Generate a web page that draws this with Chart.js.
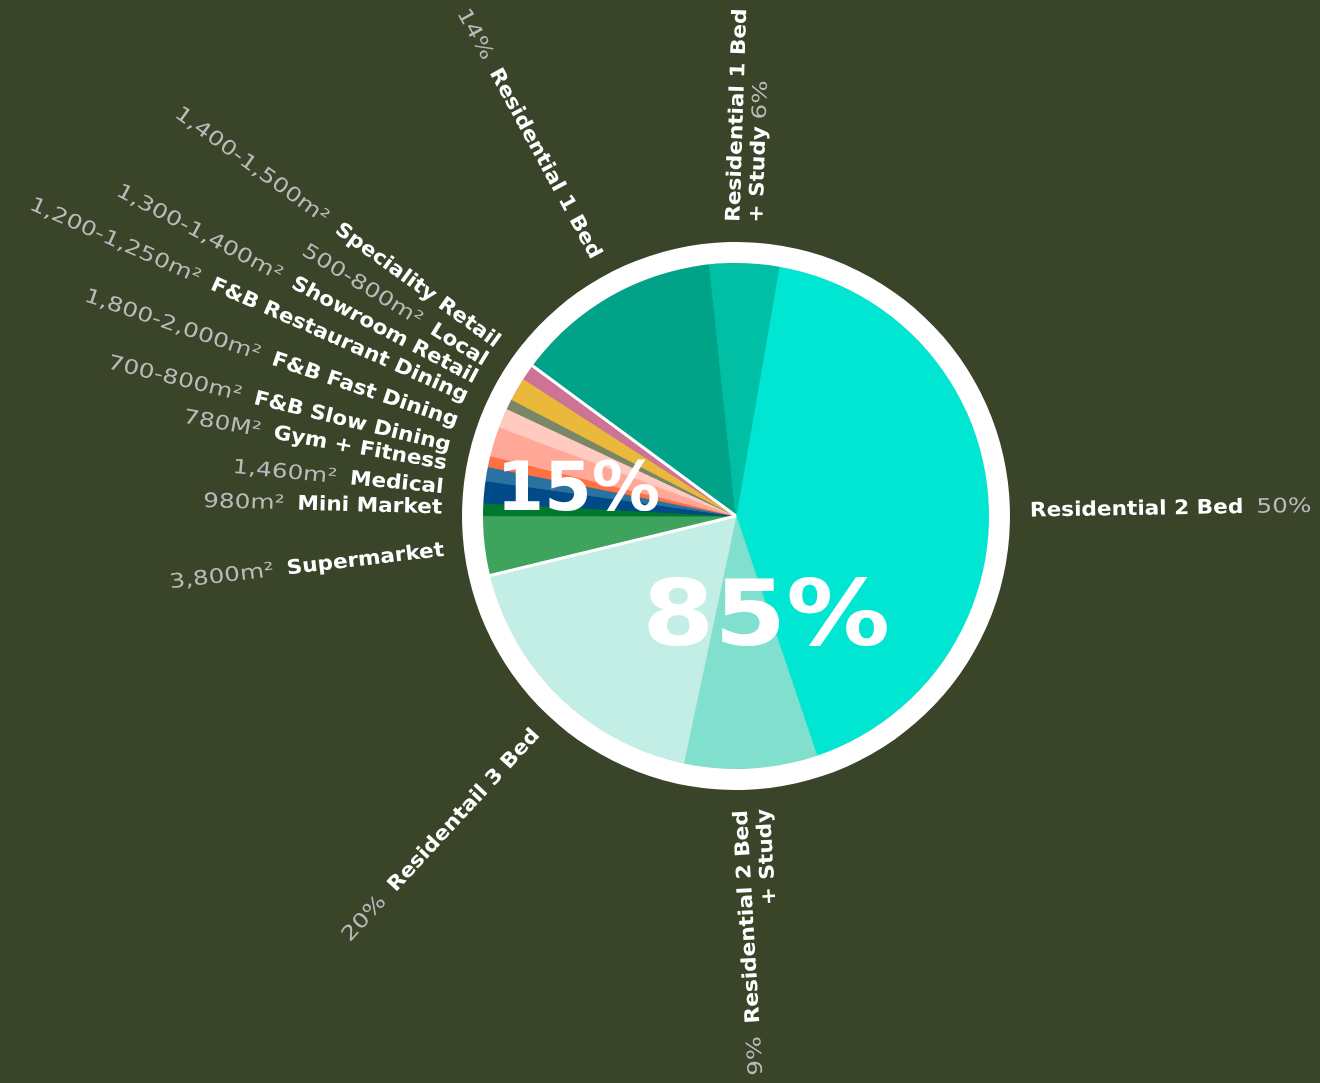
<!DOCTYPE html>
<html>
<head>
<meta charset="utf-8">
<script src="https://cdn.jsdelivr.net/npm/chart.js@4.4.1/dist/chart.umd.min.js"></script>
<style>
  html, body { margin: 0; padding: 0; background: #394429; }
  #wrap { position: relative; width: 1320px; height: 1083px; }
</style>
</head>
<body>
<div id="wrap"><canvas id="mixChart"></canvas></div>
<script>
// --- DATA (clockwise, starting just right of 12 o'clock) ---
const categories = [
    'Residential 2 Bed', 'Residential 2 Bed\n+ Study', 'Residentail 3 Bed',
    'Supermarket', 'Mini Market', 'Medical', 'Gym + Fitness',
    'F&B Slow Dining', 'F&B Fast Dining', 'F&B Restaurant Dining',
    'Showroom Retail', 'Local', 'Speciality Retail',
    'Residential 1 Bed', 'Residential 1 Bed\n+ Study'
];
const shares = [42.1, 8.5, 17.9, 3.8, 0.8, 1.4, 0.9, 0.7, 1.9, 1.25, 0.65, 1.5, 1.0, 13.2, 4.4];
const valueLabels = [
    '50%', '9%', '20%',
    '3,800m²', '980m²', '1,460m²', '780M²',
    '700-800m²', '1,800-2,000m²', '1,200-1,250m²',
    '1,300-1,400m²', '500-800m²', '1,400-1,500m²',
    '14%', '6%'
];
const groups = ['res', 'res', 'res', 'com', 'com', 'com', 'com', 'com', 'com', 'com', 'com', 'com', 'com', 'res', 'res'];
const groupNames = ['res', 'com'];
const groupTotals = ['85%', '15%'];

// --- STYLE / LAYOUT ---
const sliceColors = [
    '#00E6D2', '#80DFCD', '#C3EEE5',
    '#3DA35D', '#00782E', '#004B87', '#2A72A0',
    '#FF7043', '#FFA897', '#FFCAC0',
    '#7A8767', '#EAB93B', '#CD7396',
    '#00A288', '#00BFA5'
];
const labelNudgeDeg = [3.5, 0, -1.5, 0, 0, 0, 0.5, 1.2, 1.5, 1, 1.5, 1.5, 1.2, 1.3, 0];
const totalPos = { res: [0.119, 0.51, 90, 1.15], com: [-0.623, -0.024, 67, 1.02] };
const NAME_FONT = 'bold 20px "DejaVu Sans"';
const VALUE_FONT = '20px "DejaVu Sans"';
const NAME_SX = 1.08, VALUE_SX = 1.24, PART_GAP = 13, LINE_H = 23, LABEL_GAP = 20;
const WHITE = '#ffffff', GREY = '#bababa';

function stretchText(ctx, str, x, y, sx) {
    ctx.save();
    ctx.translate(x, y);
    ctx.scale(sx, 1);
    ctx.fillText(str, 0, 0);
    ctx.restore();
}

const radialLabels = {
    id: 'radialLabels',
    afterDatasetsDraw(chart) {
        const ctx = chart.ctx;
        const ring = chart.getDatasetMeta(0).data[0];
        const arcs = chart.getDatasetMeta(1).data;
        const cx = arcs[0].x, cy = arcs[0].y;
        const pieR = arcs[0].outerRadius;
        const labelR = ring.outerRadius + LABEL_GAP;

        // white separators around the commercial group
        const first = groups.indexOf('com'), last = groups.lastIndexOf('com');
        ctx.save();
        ctx.strokeStyle = WHITE;
        ctx.lineWidth = 3;
        [arcs[first].startAngle, arcs[last].endAngle].forEach(ang => {
            ctx.beginPath();
            ctx.moveTo(cx, cy);
            ctx.lineTo(cx + Math.cos(ang) * pieR, cy + Math.sin(ang) * pieR);
            ctx.stroke();
        });
        ctx.restore();

        // radial labels
        arcs.forEach((arc, i) => {
            const mid = (arc.startAngle + arc.endAngle) / 2 + labelNudgeDeg[i] * Math.PI / 180;
            let a = (mid * 180 / Math.PI + 90) % 360;
            if (a < 0) a += 360;
            const outward = a < 150 || a > 340;
            const lines = categories[i].split('\n');

            ctx.save();
            ctx.translate(cx + Math.cos(mid) * labelR, cy + Math.sin(mid) * labelR);
            ctx.rotate(outward ? mid : mid + Math.PI);
            ctx.textBaseline = 'middle';
            ctx.textAlign = 'left';
            lines.forEach((ln, k) => {
                const y = (k - (lines.length - 1) / 2) * LINE_H;
                const parts = [];
                if (!outward && k === 0) parts.push([valueLabels[i], false]);
                parts.push([ln, true]);
                if (outward && k === lines.length - 1) parts.push([valueLabels[i], false]);
                const widths = parts.map(p => {
                    ctx.font = p[1] ? NAME_FONT : VALUE_FONT;
                    return ctx.measureText(p[0]).width * (p[1] ? NAME_SX : VALUE_SX);
                });
                const gap = lines.length > 1 && outward ? PART_GAP / 2 : PART_GAP;
                const total = widths.reduce((s, w) => s + w, 0) + gap * (parts.length - 1);
                let x = outward ? 0 : -total;
                parts.forEach((p, j) => {
                    ctx.font = p[1] ? NAME_FONT : VALUE_FONT;
                    ctx.fillStyle = p[1] ? WHITE : GREY;
                    stretchText(ctx, p[0], x, y, p[1] ? NAME_SX : VALUE_SX);
                    x += widths[j] + gap;
                });
            });
            ctx.restore();
        });

        // group totals
        groupNames.forEach((g, gi) => {
            const [fx, fy, size, sx] = totalPos[g];
            ctx.save();
            ctx.font = 'bold ' + size + 'px "DejaVu Sans"';
            ctx.fillStyle = WHITE;
            ctx.textBaseline = 'alphabetic';
            ctx.textAlign = 'left';
            const w = ctx.measureText(groupTotals[gi]).width * sx;
            stretchText(ctx, groupTotals[gi], cx + fx * pieR - w / 2, cy + fy * pieR, sx);
            ctx.restore();
        });
    }
};

document.addEventListener('DOMContentLoaded', () => {
    new Chart(document.getElementById('mixChart').getContext('2d'), {
        type: 'pie',
        data: {
            labels: categories,
            datasets: [
                { data: [1], backgroundColor: [WHITE], borderWidth: 0, weight: 21 },
                { data: shares, backgroundColor: sliceColors, borderColor: sliceColors, borderWidth: 1, weight: 253 }
            ]
        },
        options: {
            responsive: true, maintainAspectRatio: false,
            animation: false, events: [],
            rotation: 9.8,
            hoverOffset: 0,
            layout: { padding: { left: 352, right: 200, top: 242, bottom: 293 } },
            plugins: { legend: { display: false }, tooltip: { enabled: false } }
        },
        plugins: [radialLabels]
    });
});
</script>
</body>
</html>
